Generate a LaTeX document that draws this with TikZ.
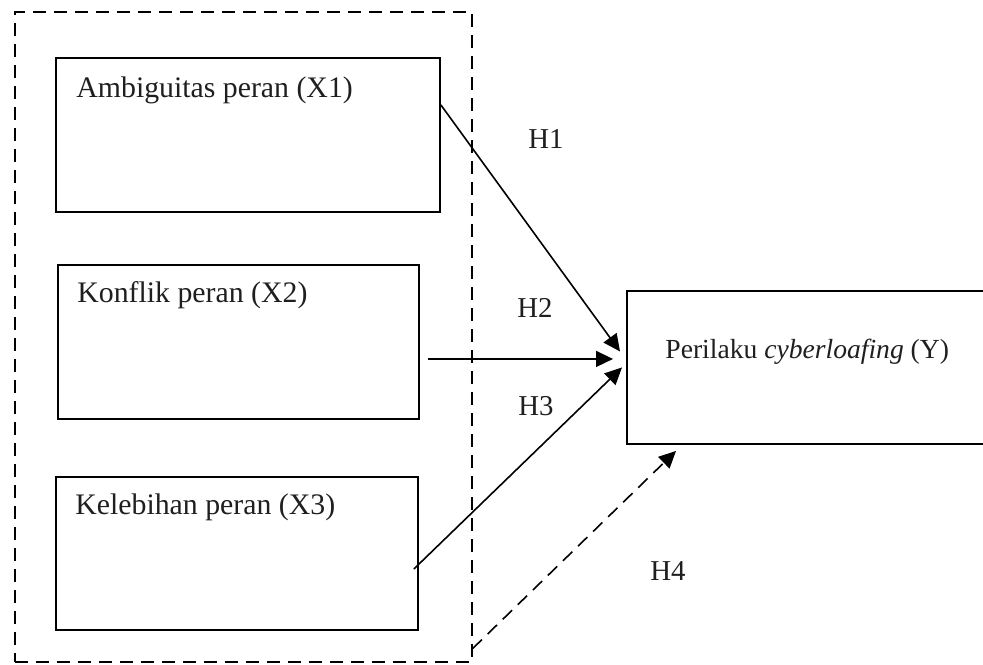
\documentclass[tikz,border=0pt]{standalone}
\usepackage{fontspec}
\setmainfont{Liberation Serif}
\usetikzlibrary{arrows.meta,calc}
\begin{document}
\begin{tikzpicture}[x=0.5pt,y=-0.5pt,
  boxnode/.style={draw=black,line width=0.95pt,rectangle,inner sep=0pt,anchor=north west},
  lbl/.style={inner sep=0pt,anchor=base west,font=\fontsize{14.9}{18}\selectfont,text=black!88},
  hlbl/.style={inner sep=0pt,anchor=base,font=\fontsize{14.4}{17}\selectfont,text=black!88},
  conn/.style={line width=0.8pt,-{Triangle[length=8.5pt,width=8pt]}},
  dconn/.style={conn,dash pattern=on 6.5pt off 4pt},
  outerbox/.style={draw=black,line width=0.8pt,dash pattern=on 6.5pt off 4pt,inner sep=0pt,anchor=north west}]
\useasboundingbox (0,0) rectangle (983,664);
% outer dashed frame
\node[outerbox,minimum width=228.5pt,minimum height=325pt] (outer) at (14,11) {};
% boxes
\node[boxnode,minimum width=192pt,minimum height=77pt] (x1) at (55,57) {};
\node[boxnode,minimum width=180.5pt,minimum height=77pt] (x2) at (57,264) {};
\node[boxnode,minimum width=181pt,minimum height=76.5pt] (x3) at (55,476) {};
\node[boxnode,minimum width=184pt,minimum height=76.5pt] (y) at (626,290) {};
% texts
\node[lbl] (t1) at (76,97) {Ambiguitas peran (X1)};
\node[lbl] (t2) at (77,302) {Konflik peran (X2)};
\node[lbl] (t3) at (75,514) {Kelebihan peran (X3)};
\node[lbl,font=\fontsize{13.8}{17}\selectfont] (ty) at (665,358) {Perilaku \textit{cyberloafing} (Y)};
% connectors
\draw[conn] ([yshift=15pt]x1.east) -- ([xshift=-3pt,yshift=8pt]y.west);
\draw[conn] ([xshift=4pt,yshift=-8.5pt]x2.east) -- ([xshift=-6.5pt,yshift=4.25pt]y.west);
\draw[conn] ([xshift=-2.5pt,yshift=-7.75pt]x3.east) -- ([xshift=-2pt]y.west);
\draw[dconn] ([yshift=7pt]outer.south east) -- ([xshift=25pt,yshift=-3pt]y.south west);
% hypothesis labels
\node[hlbl] (h1) at (546,148) {H1};
\node[hlbl] (h2) at (535,317) {H2};
\node[hlbl] (h3) at (536,415) {H3};
\node[hlbl] (h4) at (668,580) {H4};
\end{tikzpicture}
\end{document}
